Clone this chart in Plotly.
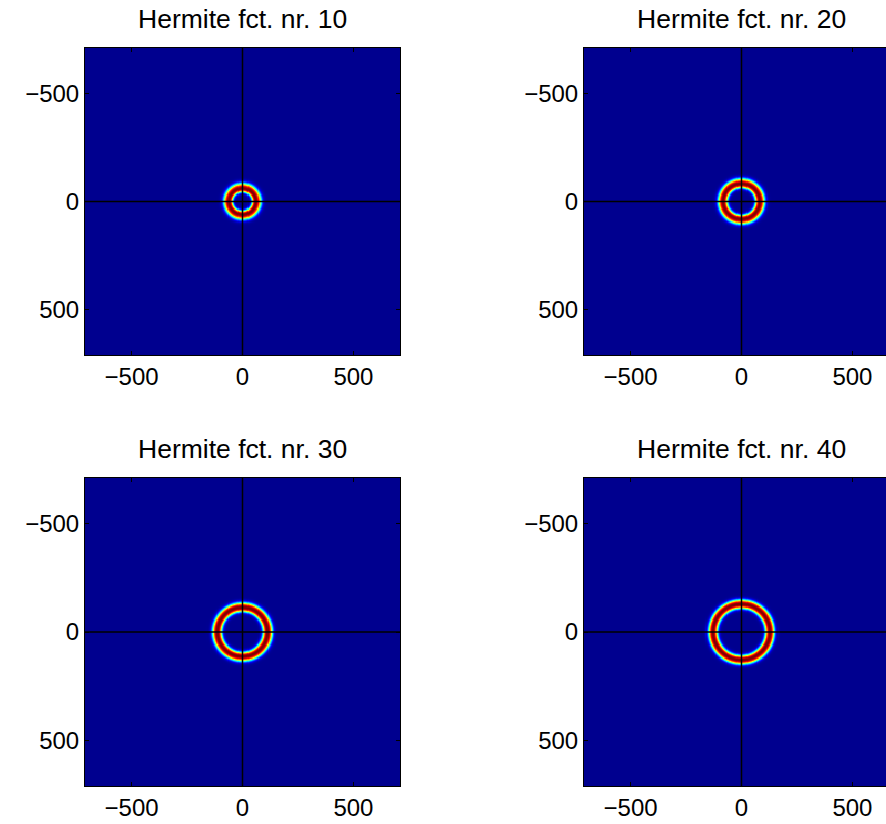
import numpy as np
import plotly.graph_objects as go

# ---- data ----
titles = ["Hermite fct. nr. 10", "Hermite fct. nr. 20", "Hermite fct. nr. 30", "Hermite fct. nr. 40"]
ring_radius = [60, 82, 113, 128]        # radius of intensity peak
ring_width_in = [18, 20, 21, 21]        # profile width inside the peak
ring_width_out = [25, 24, 23, 22]       # profile width outside the peak
profile_power = 2.4
tick_values = [-500, 0, 500]
grid_half = 710
grid_step = 5

# MATLAB jet colormap
jet = [[0.0, "rgb(0,0,143)"], [0.125, "rgb(0,0,255)"], [0.375, "rgb(0,255,255)"],
       [0.625, "rgb(255,255,0)"], [0.875, "rgb(255,0,0)"], [1.0, "rgb(128,0,0)"]]

W, H = 886, 824
coords = np.arange(-grid_half, grid_half + 1, grid_step)
XX, YY = np.meshgrid(coords, coords)
RR = np.sqrt(XX ** 2 + YY ** 2)

# pixel layout of the panels
col_left = [85, 584]
col_right = [400, 886]
row_top = [48, 478]
row_bottom = [355, 786]
px_per_unit = (400 - 85) / (2 * grid_half)

fig = go.Figure()
font_family = "Liberation Sans, Arial, sans-serif"
shapes = []
annotations = []

for i in range(4):
    r, c = divmod(i, 2)
    n = i + 1
    xa = "x" if n == 1 else f"x{n}"
    ya = "y" if n == 1 else f"y{n}"
    d = RR - ring_radius[i]
    s = np.where(d < 0, ring_width_in[i], ring_width_out[i])
    z = np.exp(-np.abs(d / s) ** profile_power)
    fig.add_trace(go.Heatmap(x=coords, y=coords, z=z, colorscale=jet, zmin=0, zmax=1,
                             showscale=False, zsmooth=False, xaxis=xa, yaxis=ya,
                             hoverinfo="skip"))
    x0 = col_left[c] / W
    x1 = col_right[c] / W
    y0 = 1 - row_bottom[r] / H
    y1 = 1 - row_top[r] / H
    xmax = -grid_half + (col_right[c] - col_left[c]) / px_per_unit
    axis_common = dict(tickvals=tick_values, ticks="inside", ticklen=4, tickcolor="black",
                       tickwidth=1, showgrid=False, zeroline=False, showline=True,
                       linecolor="black", linewidth=1,
                       tickfont=dict(family=font_family, size=24, color="black"))
    fig.layout[f"xaxis{'' if n == 1 else n}"] = dict(
        domain=[x0, x1], range=[-grid_half, xmax], anchor=ya, mirror="ticks",
        **axis_common)
    fig.layout[f"yaxis{'' if n == 1 else n}"] = dict(
        domain=[y0, y1], range=[grid_half, -grid_half], anchor=xa,
        mirror="ticks" if c == 0 else False, **axis_common)
    # crosshair
    shapes.append(dict(type="line", xref=xa, yref=f"{ya} domain", x0=0, x1=0, y0=0, y1=1,
                       line=dict(color="black", width=1.5)))
    shapes.append(dict(type="line", xref=f"{xa} domain", yref=ya, x0=0, x1=1, y0=0, y1=0,
                       line=dict(color="black", width=1.5)))
    center_px = col_left[c] + grid_half * px_per_unit
    annotations.append(dict(text=titles[i], xref="paper", yref="paper", x=center_px / W, y=y1,
                            xanchor="center", yanchor="bottom", yshift=12, showarrow=False,
                            font=dict(family=font_family, size=26.5, color="black")))

fig.update_layout(width=W, height=H, margin=dict(l=0, r=0, t=0, b=0),
                  paper_bgcolor="white", plot_bgcolor="white", showlegend=False,
                  shapes=shapes, annotations=annotations)

fig.write_html("out.html")
